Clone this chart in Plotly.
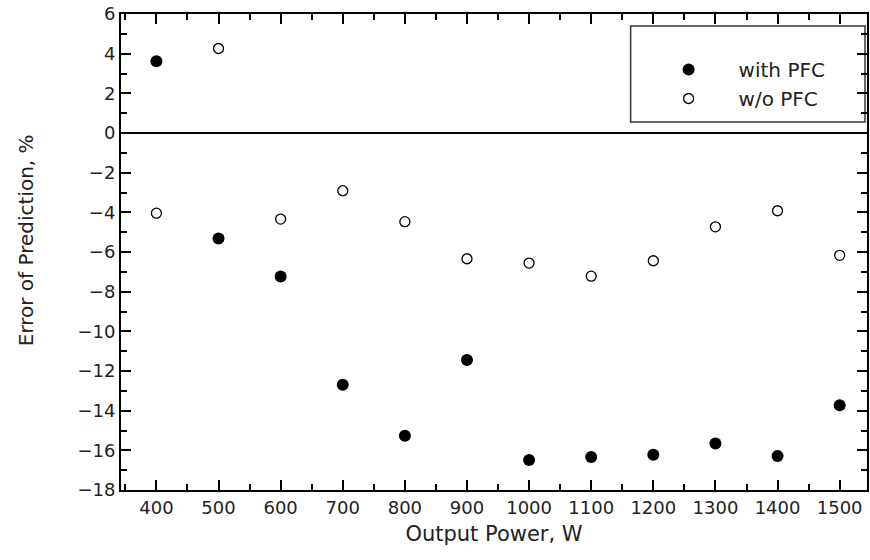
import plotly.graph_objects as go

power = [400, 500, 600, 700, 800, 900, 1000, 1100, 1200, 1300, 1400, 1500]
with_pfc = [3.62, -5.32, -7.24, -12.69, -15.26, -11.44, -16.49, -16.34, -16.22, -15.65, -16.29, -13.73]
without_pfc = [-4.04, 4.26, -4.34, -2.91, -4.47, -6.34, -6.56, -7.22, -6.44, -4.73, -3.92, -6.17]
x_ticks = [400, 500, 600, 700, 800, 900, 1000, 1100, 1200, 1300, 1400, 1500]
y_ticks = [6, 4, 2, 0, -2, -4, -6, -8, -10, -12, -14, -16, -18]

FONT = "DejaVu Sans, Liberation Sans, sans-serif"
W, H = 870, 560
ml, mr, mt, mb = 121, 1, 14, 70

fig = go.Figure()
fig.add_trace(go.Scatter(x=power, y=with_pfc, mode="markers", name="with PFC",
                         marker=dict(symbol="circle", size=12, color="black",
                                     line=dict(width=0))))
fig.add_trace(go.Scatter(x=power, y=without_pfc, mode="markers", name="w/o PFC",
                         marker=dict(symbol="circle-open", size=10, color="black",
                                     line=dict(width=1.3))))

axis_common = dict(showline=True, linecolor="black", linewidth=2, mirror="ticks",
                   ticks="inside", ticklen=10, tickwidth=1.5, tickcolor="black",
                   showgrid=False, tickfont=dict(family=FONT, size=18, color="#222"))

fig.update_xaxes(range=[343, 1544], tickvals=x_ticks,
                 ticktext=[str(v) for v in x_ticks],
                 minor=dict(dtick=50, tick0=0, ticks="inside", ticklen=6, tickwidth=1.5,
                            tickcolor="black"),
                 zeroline=False,
                 title=dict(text="Output Power, W", font=dict(family=FONT, size=21, color="#222"),
                            standoff=10),
                 **axis_common)
fig.update_yaxes(range=[-18, 6], tickvals=y_ticks,
                 ticktext=[str(v).replace("-", "\u2212") for v in y_ticks],
                 minor=dict(dtick=1, tick0=0, ticks="inside", ticklen=6, tickwidth=1.5,
                            tickcolor="black"),
                 zeroline=True, zerolinecolor="black", zerolinewidth=1.5,
                 **axis_common)

pw = W - ml - mr
ph = H - mt - mb
def px(xp):
    return (xp - ml) / pw
def py(yp):
    return 1 - (yp - mt) / ph

# y axis title
fig.add_annotation(text="Error of Prediction, %", xref="paper", yref="paper",
                   x=px(26), y=py(240), xanchor="center", yanchor="middle",
                   textangle=-90, showarrow=False,
                   font=dict(family=FONT, size=20, color="#222"))

# legend box
fig.add_shape(type="rect", xref="paper", yref="paper",
              x0=px(632), x1=px(867), y0=py(122), y1=py(26),
              line=dict(color="#333", width=1.5), fillcolor="white", layer="below")

fig.update_layout(
    width=W, height=H,
    margin=dict(l=ml, r=mr, t=mt, b=mb),
    plot_bgcolor="white", paper_bgcolor="white",
    showlegend=True,
    legend=dict(x=px(640), y=py(50), xanchor="left", yanchor="top",
                bgcolor="rgba(0,0,0,0)", borderwidth=0,
                font=dict(family=FONT, size=20, color="#222"),
                itemwidth=90, tracegroupgap=0),
)

fig.write_html("out.html")
